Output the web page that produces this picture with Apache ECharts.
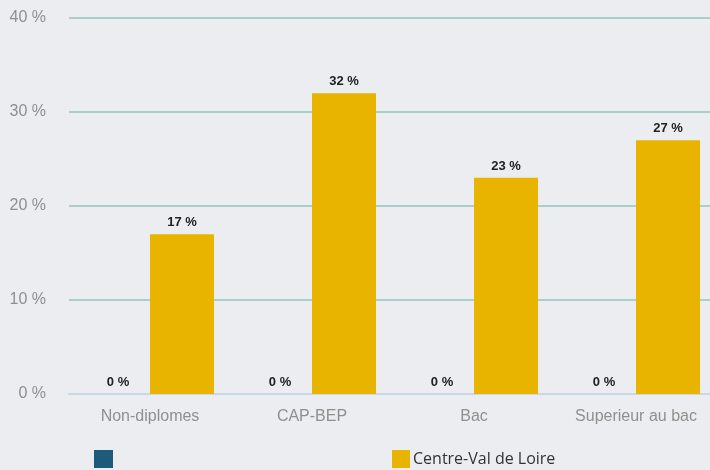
<!DOCTYPE html>
<html>
<head>
<meta charset="utf-8">
<script src="https://cdn.jsdelivr.net/npm/echarts@6/dist/echarts.min.js"></script>
<style>
  html, body { margin: 0; padding: 0; background: #ecedf0; }
  #chart { width: 710px; height: 470px; }
</style>
</head>
<body>
<div id="chart"></div>
<script>
// Diploma levels and shares (in %)
const categories = ['Non-diplomes', 'CAP-BEP', 'Bac', 'Superieur au bac'];
const seriesNames = [' ', 'Centre-Val de Loire'];
const firstValues = [0, 0, 0, 0];
const regionValues = [17, 32, 23, 27];
const yTicks = { min: 0, max: 40, interval: 10 };

const chart = echarts.init(document.getElementById('chart'), null, { renderer: 'canvas' });

const barLabel = {
  show: true,
  position: 'top',
  distance: 5,
  formatter: p => Math.round(p.value) + ' %',
  fontFamily: 'Liberation Sans, Arial, sans-serif',
  fontWeight: 'bold',
  fontSize: 13,
  color: '#222'
};

const legendText = { fontFamily: 'Open Sans', fontSize: 16, color: '#333' };

chart.setOption({
  backgroundColor: '#ecedf0',
  animation: false,
  // plot area runs a little past the right edge of the canvas
  grid: { left: 69, width: 648, top: 18, bottom: 76, outerBoundsMode: 'none' },
  legend: [
    {
      data: [seriesNames[0]],
      left: 94, top: 450, padding: 0,
      icon: 'rect',
      itemWidth: 19, itemHeight: 18,
      textStyle: legendText
    },
    {
      data: [seriesNames[1]],
      left: 392, top: 450, padding: 0,
      icon: 'rect',
      itemWidth: 18, itemHeight: 18,
      textStyle: Object.assign({ padding: [4, 0, 0, -2] }, legendText)
    }
  ],
  xAxis: {
    type: 'category',
    data: categories,
    axisTick: { show: false },
    axisLine: { show: true, lineStyle: { color: '#c8d9e4', width: 2 } },
    axisLabel: {
      fontFamily: 'Liberation Sans, Arial, sans-serif',
      fontSize: 16,
      color: '#8f8f8f',
      margin: 15
    }
  },
  yAxis: {
    type: 'value',
    min: yTicks.min,
    max: yTicks.max,
    interval: yTicks.interval,
    axisLine: { show: false },
    axisTick: { show: false },
    axisLabel: {
      formatter: v => v + ' %',
      fontFamily: 'Liberation Sans, Arial, sans-serif',
      fontSize: 16,
      color: '#8f8f8f',
      margin: 23
    },
    splitLine: { lineStyle: { color: '#a9cecc', width: 2 } }
  },
  series: [
    {
      name: seriesNames[0],
      type: 'bar',
      data: firstValues,
      itemStyle: { color: '#1e5b7a' },
      barWidth: 64,
      barGap: '0%',
      label: barLabel
    },
    {
      name: seriesNames[1],
      type: 'bar',
      data: regionValues,
      itemStyle: { color: '#e8b400' },
      barWidth: 64,
      barGap: '0%',
      label: barLabel
    }
  ]
});
</script>
</body>
</html>
